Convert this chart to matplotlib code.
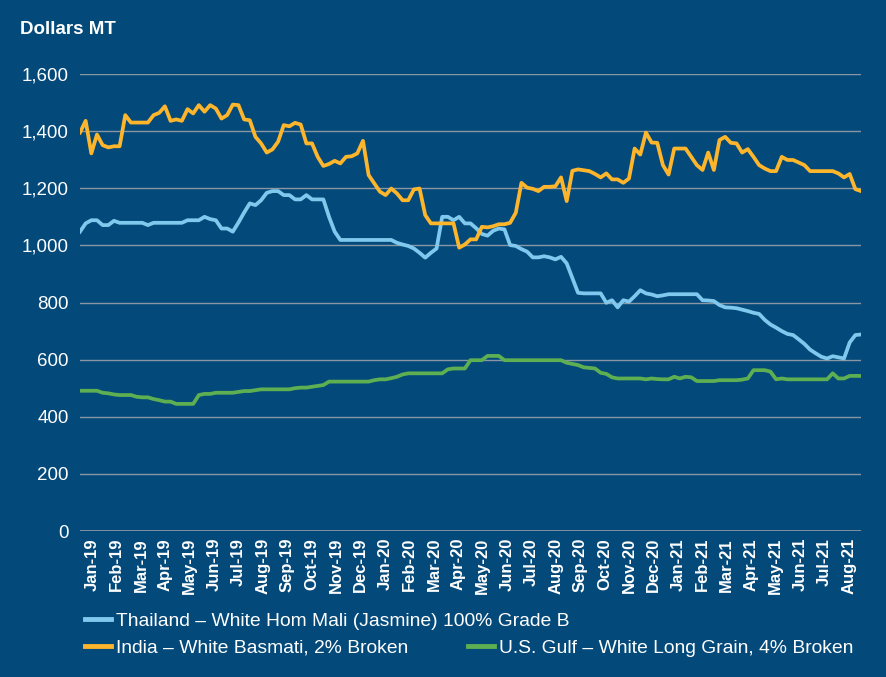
import matplotlib
matplotlib.use("Agg")
import matplotlib.pyplot as plt
import numpy as np
import pandas as pd

# weekly export prices, dollars per metric ton (Jan 2019 - Aug 2021)
weeks = pd.date_range("2019-01-02", periods=139, freq="7D")

thailand = [
    1048, 1077, 1088, 1088, 1071, 1071, 1086, 1079, 1079, 1079,
    1079, 1079, 1071, 1079, 1079, 1079, 1079, 1079, 1079, 1088,
    1088, 1088, 1100, 1092, 1088, 1059, 1059, 1048, 1080, 1115,
    1147, 1141, 1158, 1184, 1190, 1190, 1176, 1176, 1161, 1161,
    1176, 1161, 1161, 1161, 1100, 1048, 1019, 1019, 1019, 1019,
    1019, 1019, 1019, 1019, 1019, 1019, 1009, 1003, 998, 989,
    974, 957, 974, 989, 1100, 1100, 1088, 1100, 1077, 1077,
    1060, 1040, 1034, 1051, 1059, 1056, 1001, 998, 987, 978,
    958, 958, 962, 958, 951, 960, 937, 885, 834, 832,
    832, 832, 832, 799, 808, 783, 808, 803, 822, 843,
    832, 828, 822, 825, 829, 829, 829, 829, 829, 829,
    808, 807, 805, 791, 783, 782, 780, 775, 770, 764,
    760, 739, 723, 712, 700, 690, 686, 671, 655, 635,
    622, 610, 604, 612, 608, 604, 660, 686, 688,
]

india = [
    1395, 1436, 1322, 1388, 1351, 1343, 1347, 1347, 1456, 1430,
    1430, 1430, 1430, 1456, 1464, 1487, 1436, 1441, 1436, 1477,
    1462, 1491, 1468, 1491, 1479, 1444, 1456, 1493, 1491, 1441,
    1438, 1380, 1357, 1325, 1336, 1363, 1421, 1417, 1429, 1423,
    1357, 1357, 1310, 1278, 1285, 1296, 1287, 1310, 1312, 1322,
    1366, 1246, 1217, 1188, 1176, 1199, 1182, 1158, 1158, 1196,
    1199, 1106, 1077, 1077, 1077, 1077, 1077, 992, 1003, 1021,
    1021, 1065, 1063, 1067, 1074, 1074, 1079, 1114, 1219, 1202,
    1198, 1190, 1205, 1205, 1207, 1238, 1155, 1261, 1266, 1263,
    1260, 1250, 1238, 1252, 1231, 1231, 1219, 1234, 1339, 1318,
    1395, 1360, 1359, 1281, 1248, 1339, 1339, 1339, 1310, 1281,
    1264, 1325, 1264, 1369, 1380, 1359, 1357, 1325, 1337, 1310,
    1281, 1269, 1260, 1260, 1310, 1299, 1299, 1290, 1281, 1260,
    1260, 1260, 1260, 1260, 1252, 1238, 1250, 1197, 1190,
]

us_gulf = [
    491, 491, 491, 491, 484, 482, 478, 476, 476, 476,
    470, 468, 468, 462, 458, 453, 453, 445, 445, 445,
    445, 476, 480, 480, 484, 484, 484, 484, 487, 490,
    490, 493, 496, 496, 496, 496, 496, 496, 500, 502,
    502, 505, 508, 511, 523, 523, 523, 523, 523, 523,
    523, 523, 528, 531, 531, 535, 540, 548, 552, 552,
    552, 552, 552, 552, 552, 566, 569, 569, 569, 598,
    598, 598, 613, 613, 613, 598, 598, 598, 598, 598,
    598, 598, 598, 598, 598, 598, 589, 585, 581, 573,
    571, 569, 554, 550, 538, 534, 534, 534, 534, 534,
    531, 534, 532, 531, 531, 540, 534, 540, 538, 525,
    525, 525, 525, 528, 528, 528, 528, 530, 534, 563,
    563, 563, 558, 531, 534, 531, 531, 531, 531, 531,
    531, 531, 531, 552, 534, 534, 543, 543, 543,
]

month_labels = [m.strftime("%b-%y") for m in pd.date_range("2019-01-01", "2021-08-01", freq="MS")]
y_ticks = [0, 200, 400, 600, 800, 1000, 1200, 1400, 1600]

series_names = [
    "Thailand \u2013 White Hom Mali (Jasmine) 100% Grade B",
    "India \u2013 White Basmati, 2% Broken",
    "U.S. Gulf \u2013 White Long Grain, 4% Broken",
]
colors = ["#7fc9ee", "#fdb52c", "#5daf52"]

bg = "#03497a"
plt.rcParams["font.family"] = ["Liberation Sans", "DejaVu Sans"]

fig = plt.figure(figsize=(8.86, 6.77), dpi=100, facecolor=bg)
ax = fig.add_axes([80 / 886, 1 - 531 / 677, 781 / 886, 457 / 677])
ax.set_facecolor(bg)

lines = []
for vals, c in zip([thailand, india, us_gulf], colors):
    ln, = ax.plot(weeks, vals, color=c, lw=2.7, solid_joinstyle="round")
    lines.append(ln)

ax.set_xlim(weeks[0], weeks[-1])
ax.set_ylim(0, 1600)
ax.set_yticks(y_ticks)
ax.set_yticklabels([f"{v:,}" for v in y_ticks], color="white", fontsize=13.5)
for v in y_ticks:
    ax.axhline(v, color="#8a96a3", lw=1.3 if v == 0 else 1.0, zorder=0)

# month labels sit in the middle of each month slot
span = weeks[-1] - weeks[0]
tick_pos = [weeks[0] + span * ((k + 0.5) / len(month_labels)) for k in range(len(month_labels))]
ax.set_xticks(tick_pos)
ax.set_xticklabels(month_labels, rotation=90, color="white", fontsize=12,
                   fontweight="bold")
ax.tick_params(length=0)
ax.tick_params(axis="x", pad=5)
ax.tick_params(axis="y", pad=8)
for s in ax.spines.values():
    s.set_visible(False)

fig.text(20 / 886, 1 - 30 / 677, "Dollars MT", color="white", fontsize=13.5,
         fontweight="bold", va="center", ha="left")

leg_pos = [(85 / 886, 1 - 621 / 677), (85 / 886, 1 - 648 / 677), (468 / 886, 1 - 648 / 677)]
for ln, name, pos in zip(lines, series_names, leg_pos):
    lg = fig.legend([ln], [name], loc="center left", bbox_to_anchor=pos,
                    frameon=False, borderpad=0, borderaxespad=0,
                    handlelength=1.35, handletextpad=0.25,
                    prop={"size": 13.9})
    for t in lg.get_texts():
        t.set_color("white")
    for h in lg.legend_handles:
        h.set_linewidth(3.5)

fig.savefig("out.png", dpi=100, facecolor=bg)
